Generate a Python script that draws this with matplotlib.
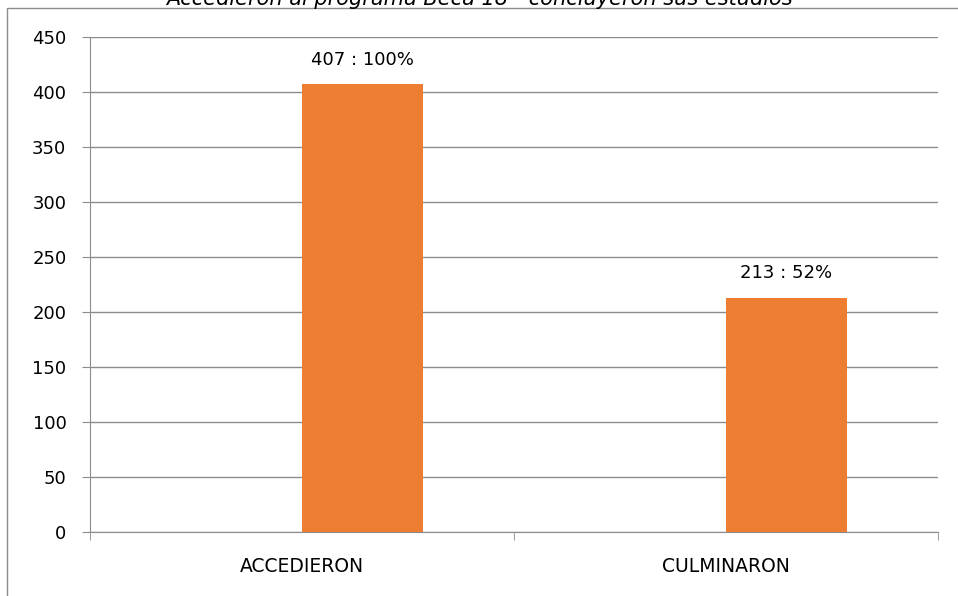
import matplotlib
matplotlib.use("Agg")
import matplotlib.pyplot as plt
from matplotlib.patches import Rectangle

categories = ["ACCEDIERON", "CULMINARON"]
values = [407, 213]
labels = ["407 : 100%", "213 : 52%"]
yticks = [0, 50, 100, 150, 200, 250, 300, 350, 400, 450]
title = "Accedieron al programa Beca 18 - concluyeron sus estudios"

W, H = 958, 596
fig = plt.figure(figsize=(W / 100, H / 100), dpi=100)
plt.rcParams['font.family'] = ['DejaVu Sans']

# outer frame
fig.patches.append(Rectangle((7 / W, -0.01), 1.1, (H - 8) / H + 0.01, transform=fig.transFigure,
                             fill=False, edgecolor="#8c8c8c", linewidth=1.0))

left, right, top, bottom = 90, 938, 37, 532
ax = fig.add_axes([left / W, 1 - bottom / H, (right - left) / W, (bottom - top) / H])

x = list(range(len(categories)))
bw = 0.285
ax.bar(x, values, width=bw, align="edge", color="#ED7D31", zorder=3)
ax.set_xlim(-0.5, len(categories) - 0.5)
ax.set_ylim(0, 450)
ax.set_yticks(yticks)
ax.set_yticklabels([str(t) for t in yticks], fontsize=13)
ax.yaxis.grid(True, color="#8c8c8c", linewidth=1.0, zorder=0)
ax.set_xticks(x)
ax.set_xticklabels(categories, fontsize=13.5)
ax.set_xticks([-0.5, 0.5, 1.5], minor=True)
ax.tick_params(axis='x', which='major', length=0, pad=18)
ax.tick_params(axis='x', which='minor', length=6, color="#8c8c8c", direction='out')
ax.tick_params(axis='y', length=6, color="#8c8c8c", pad=11)
for s in ["top", "right"]:
    ax.spines[s].set_visible(False)
ax.spines["left"].set_color("#8c8c8c")
ax.spines["bottom"].set_color("#8c8c8c")

for xi, v, lab in zip(x, values, labels):
    ax.annotate(lab, (xi + bw / 2, v), xytext=(0, 11), textcoords="offset points",
                ha="center", va="bottom", fontsize=13)

fig.text(0.5, 1 - 5 / H, title, ha="center", va="baseline", fontsize=15,
         style="italic")

fig.savefig("out.png", dpi=100)
